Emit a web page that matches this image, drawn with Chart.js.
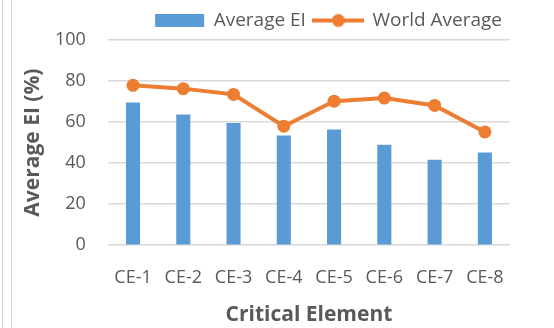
<!DOCTYPE html>
<html>
<head>
<meta charset="utf-8">
<script src="https://cdn.jsdelivr.net/npm/chart.js@4"></script>
<style>
  body { margin: 0; background: #fff; }
  #wrap { position: relative; width: 554px; height: 328px; }
  .edge { position: absolute; top: 0; bottom: 0; width: 1px; background: #d4d4d4; }
</style>
</head>
<body>
<div id="wrap">
  <div class="edge" style="left:2px"></div>
  <div class="edge" style="left:11px"></div>
  <canvas id="myChart" width="554" height="328"></canvas>
</div>
<script>
const labels = ['CE-1', 'CE-2', 'CE-3', 'CE-4', 'CE-5', 'CE-6', 'CE-7', 'CE-8'];
const averageEI = [69.5, 63.7, 59.6, 53.4, 56.4, 49, 41.7, 45.2];
const worldAverage = [77.9, 76.3, 73.5, 58, 70.2, 71.7, 68.1, 55.2];

const blue = '#5B9BD5';
const orange = '#ED7D31';
const grey = '#595959';

// legend swatch for the line series: a short line with a dot on it
const lineKey = document.createElement('canvas');
lineKey.width = 52;
lineKey.height = 16;
const k = lineKey.getContext('2d');
k.strokeStyle = orange;
k.lineWidth = 4;
k.beginPath();
k.moveTo(0, 8);
k.lineTo(52, 8);
k.stroke();
k.fillStyle = orange;
k.beginPath();
k.arc(26, 8, 6.5, 0, Math.PI * 2);
k.fill();

Chart.defaults.font.family = '"Open Sans", sans-serif';
Chart.defaults.color = grey;

const ctx = document.getElementById('myChart');

new Chart(ctx, {
    data: {
        labels: labels,
        datasets: [{
            type: 'bar',
            label: 'Average EI',
            data: averageEI,
            backgroundColor: blue,
            barPercentage: 0.28,
            categoryPercentage: 1,
            order: 2
        }, {
            type: 'line',
            label: 'World Average',
            data: worldAverage,
            borderColor: orange,
            backgroundColor: orange,
            borderWidth: 4,
            pointRadius: 6.5,
            pointHoverRadius: 6.5,
            pointBorderWidth: 0,
            tension: 0,
            order: 1
        }]
    },
    options: {
        responsive: false,
        animation: false,
        layout: {
            padding: { left: 23, right: 44, top: 3, bottom: 0 }
        },
        plugins: {
            tooltip: { enabled: false },
            legend: {
                position: 'top',
                align: 'end',
                labels: {
                    usePointStyle: true,
                    pointStyleWidth: 49,
                    boxHeight: 13,
                    padding: 8,
                    font: { size: 19 },
                    color: grey,
                    generateLabels: function (chart) {
                        const items = Chart.defaults.plugins.legend.labels.generateLabels(chart);
                        items.forEach(function (it) {
                            it.pointStyle = it.datasetIndex === 0 ? 'rect' : lineKey;
                        });
                        // bars first, as in the dataset list
                        items.sort(function (a, b) { return a.datasetIndex - b.datasetIndex; });
                        return items;
                    }
                }
            }
        },
        scales: {
            x: {
                grid: { display: false },
                border: { display: false },
                ticks: { font: { size: 18 }, color: grey, maxRotation: 0, padding: 14 },
                title: {
                    display: true,
                    text: 'Critical Element',
                    font: { size: 21, weight: 'bold' },
                    color: grey,
                    padding: { top: 0, bottom: 0 }
                }
            },
            y: {
                min: 0,
                max: 100,
                ticks: { stepSize: 20, font: { size: 18 }, color: grey, padding: 22 },
                grid: { color: '#d9d9d9', lineWidth: 1.5, drawTicks: false },
                border: { display: false },
                title: {
                    display: true,
                    text: 'Average EI (%)',
                    font: { size: 21, weight: 'bold', lineHeight: 1 },
                    color: grey,
                    padding: { top: 0, bottom: -11 }
                }
            }
        }
    }
});
</script>
</body>
</html>
